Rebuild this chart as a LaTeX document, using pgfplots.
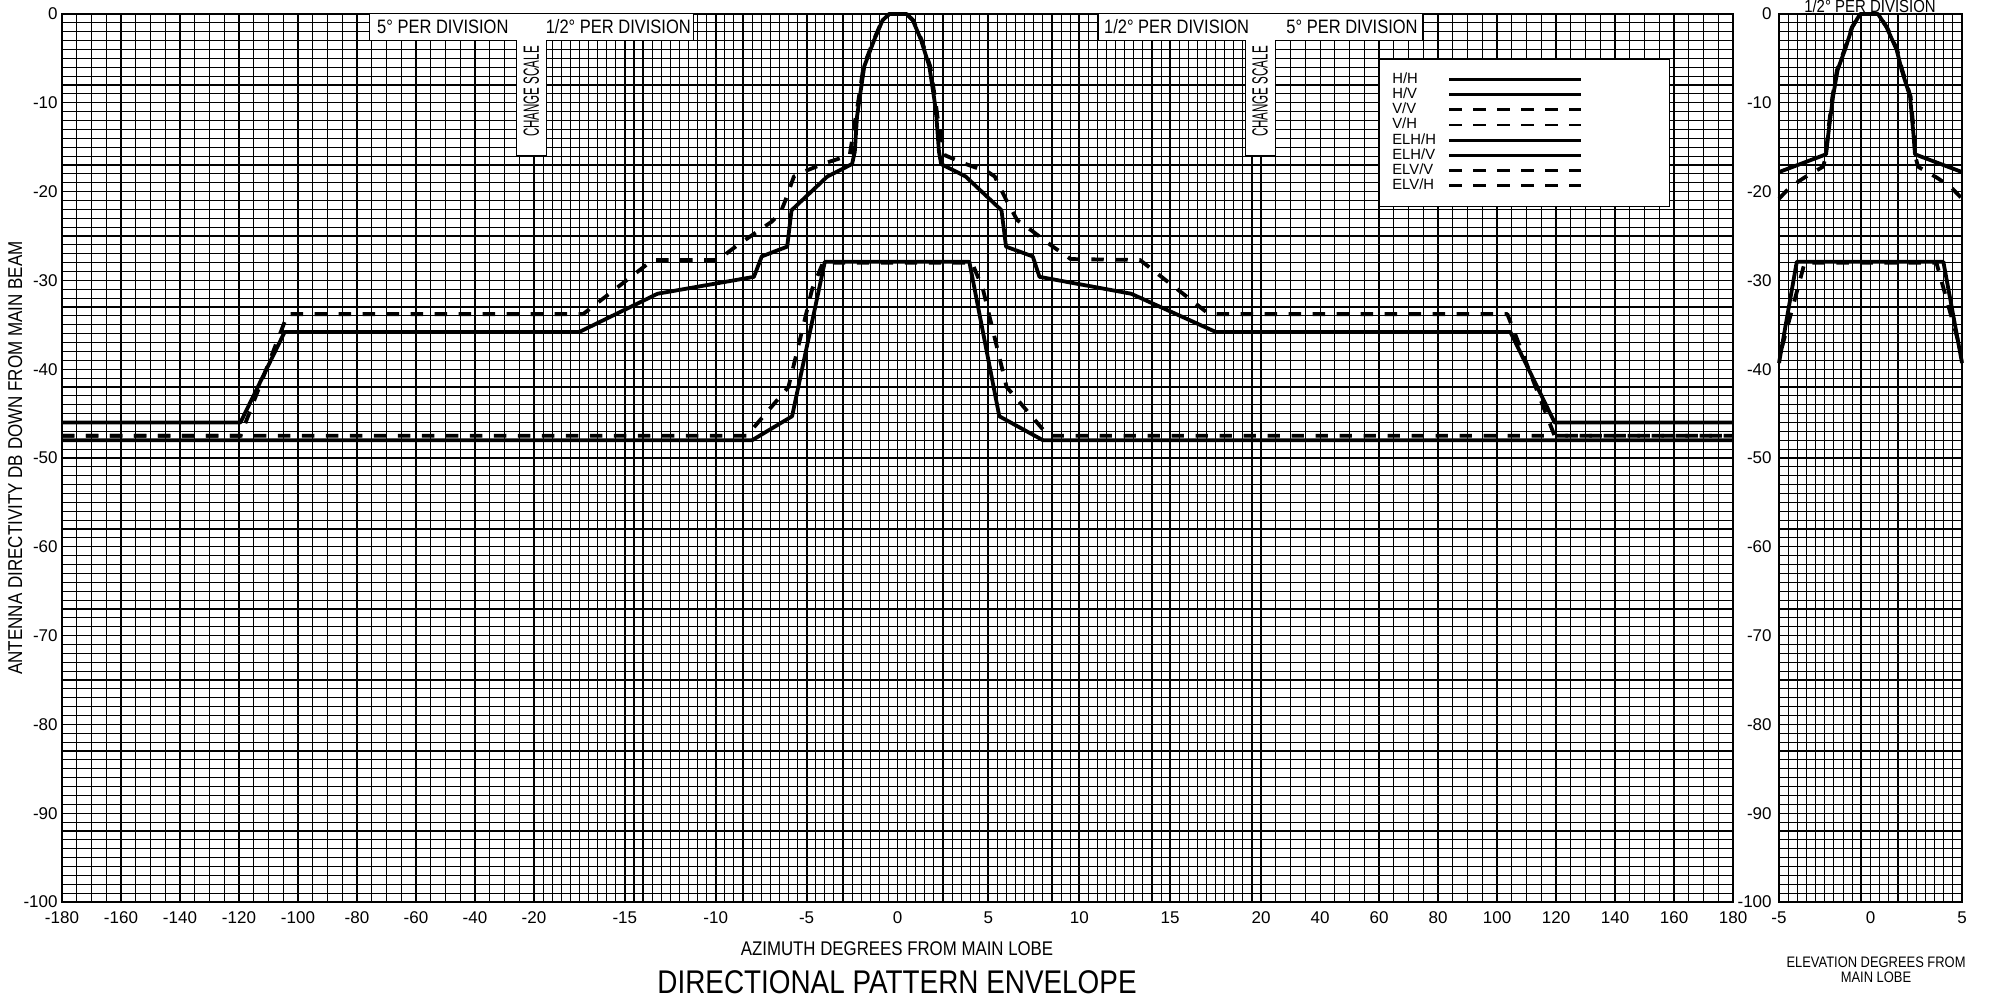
\documentclass[border=0pt]{standalone}
\usepackage{fontspec}
\setmainfont{Liberation Sans}[FakeStretch=0.85]
\newfontfamily\tickfont{Liberation Sans}
\newfontfamily\legfont{Liberation Sans}
\usepackage{pgfplots}
\usepackage{pgfplotstable}
\pgfplotsset{compat=1.18}

% azimuth envelopes (degrees, dB)
\pgfplotstableread{
x y
-180 -46
-119.5 -46
-104.5 -35.8
-17.5 -35.8
-13.2 -31.5
-7.9 -29.6
-7.47 -27.3
-6.07 -26.2
-5.83 -22.1
-3.86 -18.3
-2.5 -16.9
-2.35 -15.5
-2.23 -11.6
-2.1 -9.7
-1.83 -5.9
-1.28 -2.9
-0.82 -0.7
-0.45 0
0.5 0
0.84 -0.7
1.29 -2.9
1.75 -5.9
2.03 -9.7
2.14 -11.6
2.28 -15.5
2.4 -16.9
3.75 -18.3
5.72 -22.1
5.97 -26.2
7.44 -27.3
7.81 -29.6
12.85 -31.5
17.5 -35.8
104.5 -35.8
119.5 -46
180 -46
}\hh

\pgfplotstableread{
x y
-180 -48
-8.0 -48
-5.8 -45.3
-4.0 -27.9
3.95 -27.9
5.6 -45.3
8.0 -48
180 -48
}\hv

\pgfplotstableread{
x y
-180 -47.5
-119.5 -47.5
-103.5 -33.8
-17.3 -33.8
-13.47 -27.7
-9.88 -27.7
-8.78 -26.0
-6.93 -23.4
-6.44 -22.4
-6.19 -21.1
-5.7 -18.3
-5.21 -17.8
-3.99 -16.8
-2.63 -15.9
-2.3 -11.6
-2.15 -9.7
-1.87 -5.9
-1.3 -2.9
-0.84 -0.7
-0.45 0
0.5 0
0.86 -0.7
1.32 -2.9
1.8 -5.9
2.08 -9.7
2.2 -11.6
2.6 -15.9
3.63 -16.8
4.98 -17.8
5.35 -18.3
5.97 -20.9
6.58 -23.2
7.32 -24.3
8.55 -26.2
9.53 -27.6
13.34 -27.7
17.14 -33.8
103.5 -33.8
119.5 -47.5
180 -47.5
}\vv

\pgfplotstableread{
x y
-180 -47.5
-8.3 -47.5
-6.0 -42
-4.7 -31
-4.1 -28
4.1 -28
4.7 -31
6.0 -42
8.3 -47.5
180 -47.5
}\vh

% elevation envelopes
\pgfplotstableread{
x y
-5 -17.8
-2.43 -15.8
-2.3 -13.4
-2.05 -9.3
-1.8 -6.3
-1.4 -4.05
-1.0 -1.5
-0.57 0
0.41 0
0.88 -1.5
1.43 -4.05
1.7 -6.3
2.16 -9.3
2.34 -13.4
2.43 -15.8
5 -17.8
}\elhh

\pgfplotstableread{
x y
-5 -20.8
-4.4 -19.5
-3.6 -18.4
-2.6 -17.2
-2.45 -16.2
-2.33 -13.4
-2.08 -9.3
-1.83 -6.3
-1.43 -4.05
-1.02 -1.5
-0.57 0
0.41 0
0.9 -1.5
1.46 -4.05
1.73 -6.3
2.19 -9.3
2.37 -13.4
2.47 -16.2
2.6 -17.2
3.6 -18.4
4.4 -19.5
5 -20.8
}\elvv

\pgfplotstableread{
x y
-5 -39.3
-4.03 -27.9
3.98 -27.9
5 -39.3
}\elhv

\pgfplotstableread{
x y
-4.85 -37.6
-3.6 -28
3.6 -28
4.89 -37.6
}\elvh

\tikzset{hdr/.style={font=\fontsize{9.7}{11}\selectfont, inner sep=0pt}}
\pgfplotsset{
  curve/.style={black, line width=1.9pt, line join=round},
  dcurve/.style={curve, dash pattern=on 6.2pt off 5.8pt},
  chart/.style={
    scale only axis, clip=false, height=444pt,
    ymin=-100, ymax=0,
    ytick={-100,-90,-80,-70,-60,-50,-40,-30,-20,-10,0},
    yticklabels={-100,-90,-80,-70,-60,-50,-40,-30,-20,-10,0},
    minor y tick num=9,
    major tick length=0pt, minor tick length=0pt,
    xmajorgrids=false, xminorgrids=true, ymajorgrids=true, yminorgrids=true,
    minor grid style={black, line width=0.55pt},
    major grid style={black, line width=0.65pt},
    axis line style={black, line width=0.8pt},
    ticklabel style={font=\tickfont\fontsize{8.5}{10}\selectfont, inner sep=0pt},
    xticklabel style={yshift=-4.6pt},
    yticklabel style={xshift=-2pt},
  },
}

\begin{document}
\begin{tikzpicture}
\begin{axis}[chart,
  at={(31pt,47.5pt)}, anchor=south west, width=835.5pt,
  xmin=-180, xmax=180,
  x coord trafo/.code={\pgfmathparse{#1<-20 ? -20+(#1+20)*0.1623 : (#1>20 ? 20+(#1-20)*0.1623 : #1)}},
  xtick={-180,-160,-140,-120,-100,-80,-60,-40,-20,-15,-10,-5,0,5,10,15,20,40,60,80,100,120,140,160,180},
  xticklabels={-180,-160,-140,-120,-100,-80,-60,-40,-20,-15,-10,-5,0,5,10,15,20,40,60,80,100,120,140,160,180},
  minor xtick={-180,-175,...,-20,-19.5,-19,...,20,25,30,...,180},
  extra x ticks={-20,-15,-10,-5,0,5,10,15,20},
  extra x tick labels={},
  extra x tick style={grid=major, major grid style={black, line width=0.95pt}},
  legend plot pos=right,
  legend cell align=left,
  legend image code/.code={\draw[#1] (0pt,0pt) -- (66pt,0pt);},
  legend style={at={(rel axis cs:0.7959,0.9354)}, anchor=north west, draw=none, fill=none,
    inner sep=0pt, row sep=0pt, font=\legfont\fontsize{7.4}{7.6}\selectfont,
    nodes={inner sep=0pt, minimum height=7.6pt},
    /tikz/column 1/.style={column sep=6pt}},
]
% scale-change captions and legend panel
\draw[fill=white, line width=0.5pt] (rel axis cs:0.1841,1) -- (rel axis cs:0.3782,1) -- (rel axis cs:0.3782,0.9707)
  -- (rel axis cs:0.2902,0.9707) -- (rel axis cs:0.2902,0.8412) -- (rel axis cs:0.2717,0.8412)
  -- (rel axis cs:0.2717,0.9707) -- (rel axis cs:0.1841,0.9707) -- cycle;
\draw[fill=white, line width=0.5pt] (rel axis cs:0.6200,1) -- (rel axis cs:0.8139,1) -- (rel axis cs:0.8139,0.9707)
  -- (rel axis cs:0.7259,0.9707) -- (rel axis cs:0.7259,0.8412) -- (rel axis cs:0.7080,0.8412)
  -- (rel axis cs:0.7080,0.9707) -- (rel axis cs:0.6200,0.9707) -- cycle;
\node[hdr] at (rel axis cs:0.2279,0.9854) {5° PER DIVISION};
\node[hdr] at (rel axis cs:0.3329,0.9854) {1/2° PER DIVISION};
\node[hdr] at (rel axis cs:0.6670,0.9854) {1/2° PER DIVISION};
\node[hdr] at (rel axis cs:0.7720,0.9854) {5° PER DIVISION};
\node[rotate=90, inner sep=0pt] at (rel axis cs:0.2809,0.9127) {\scalebox{0.62}[1]{\fontsize{11}{13}\selectfont CHANGE SCALE}};
\node[rotate=90, inner sep=0pt] at (rel axis cs:0.7170,0.9127) {\scalebox{0.62}[1]{\fontsize{11}{13}\selectfont CHANGE SCALE}};
\draw[fill=white, line width=0.5pt] (rel axis cs:0.7887,0.7827) rectangle (rel axis cs:0.9617,0.9493);

\addplot[curve, forget plot] table {\hh};
\addplot[curve, forget plot] table {\hv};
\addplot[dcurve, forget plot] table {\vv};
\addplot[dcurve, forget plot] table {\vh};
\addlegendimage{black, line width=1.4pt}  \addlegendentry{H/H}
\addlegendimage{black, line width=1.4pt}  \addlegendentry{H/V}
\addlegendimage{black, line width=1.4pt, dash pattern=on 6.3pt off 5.7pt} \addlegendentry{V/V}
\addlegendimage{black, line width=1.4pt, dash pattern=on 6.3pt off 5.7pt} \addlegendentry{V/H}
\addlegendimage{black, line width=1.4pt}  \addlegendentry{ELH/H}
\addlegendimage{black, line width=1.4pt}  \addlegendentry{ELH/V}
\addlegendimage{black, line width=1.4pt, dash pattern=on 6.3pt off 5.7pt} \addlegendentry{ELV/V}
\addlegendimage{black, line width=1.4pt, dash pattern=on 6.3pt off 5.7pt} \addlegendentry{ELV/H}
\end{axis}

\begin{axis}[chart,
  at={(889.5pt,47.5pt)}, anchor=south west, width=91.5pt,
  xmin=-5, xmax=5,
  xtick={-5,0,5}, xticklabels={-5,0,5},
  minor xtick={-5,-4.5,...,5},
  extra x ticks={-0.5}, extra x tick labels={},
  extra x tick style={grid=major, major grid style={black, line width=0.95pt}},
  yticklabel style={xshift=-1.5pt},
]
\addplot[curve] table {\elhh};
\addplot[curve] table {\elhv};
\addplot[dcurve] table {\elvv};
\addplot[dcurve] table {\elvh};
\end{axis}

\node[rotate=90, anchor=base, font=\fontsize{10}{12}\selectfont] at (11pt,269.5pt) {ANTENNA DIRECTIVITY DB DOWN FROM MAIN BEAM};
\node[anchor=base, font=\fontsize{9.9}{11}\selectfont] at (448.5pt,21pt) {AZIMUTH DEGREES FROM MAIN LOBE};
\node[anchor=base, font=\fontsize{16.4}{18}\selectfont] at (448.5pt,2pt) {DIRECTIONAL PATTERN ENVELOPE};
\node[anchor=base, font=\fontsize{7.6}{9}\selectfont] at (938pt,14.8pt) {ELEVATION DEGREES FROM};
\node[anchor=base, font=\fontsize{7.6}{9}\selectfont] at (938pt,7.2pt) {MAIN LOBE};
\node[anchor=base, font=\fontsize{8.8}{10}\selectfont, inner sep=0pt] at (935pt,492pt) {1/2° PER DIVISION};

\pgfresetboundingbox
\path[use as bounding box] (0pt,0pt) rectangle (994.5pt,498.5pt);
\end{tikzpicture}
\end{document}
